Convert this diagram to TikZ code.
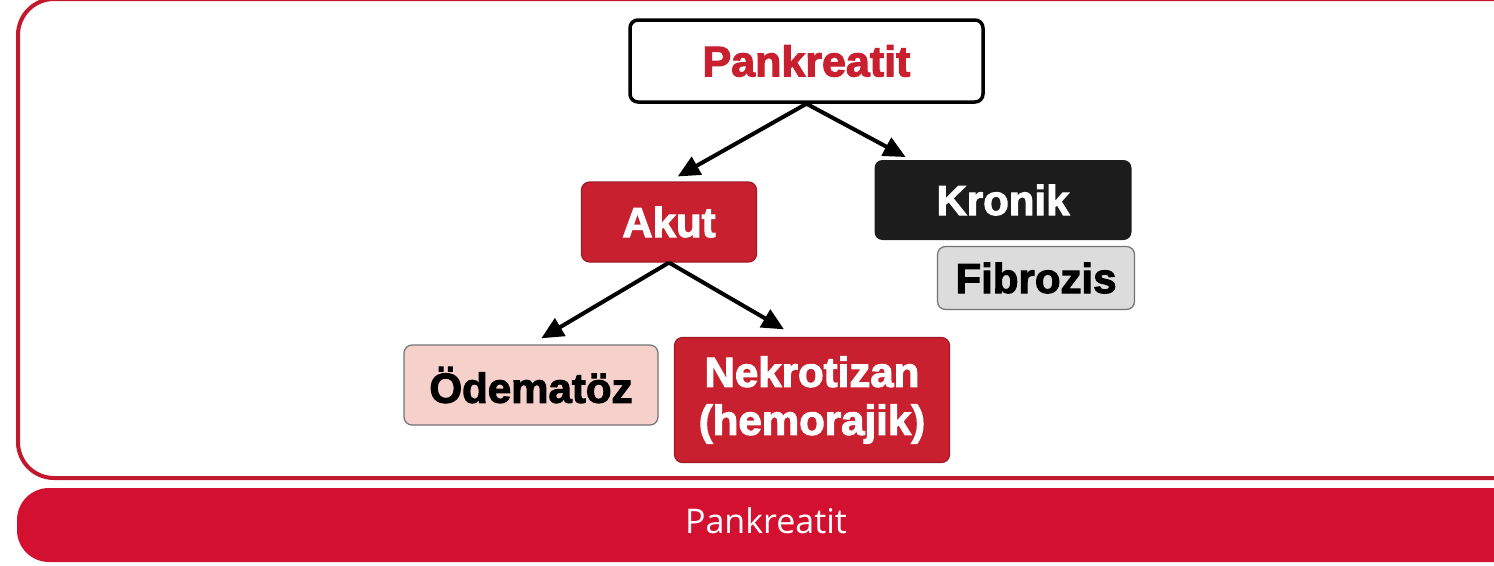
\documentclass[tikz,border=0pt]{standalone}
\usepackage{fontspec}
\setmainfont{Liberation Sans}[BoldFeatures={FakeBold=2.5}]
\newfontfamily\barfont{Open Sans}
\usetikzlibrary{arrows.meta,calc}
\definecolor{pkred}{HTML}{C8202F}
\definecolor{barred}{HTML}{D41030}
\definecolor{framered}{HTML}{C0182C}
\definecolor{pkpink}{HTML}{F6D0CB}
\definecolor{pkgray}{HTML}{DCDCDC}
\definecolor{pkblack}{HTML}{1C1C1C}

\begin{document}
\begin{tikzpicture}[x=1pt,y=-1pt,
    box/.style={rounded corners=8pt, inner sep=0pt, align=center, line width=1.2pt,
        font=\fontsize{42}{48}\selectfont\bfseries},
    arr/.style={line width=4pt, -{Triangle[length=22pt,width=20pt]}}]
    \useasboundingbox (0,0) rectangle (1494,565);
    \def\frameline{(18,-1) rectangle (1530,478)};
    \def\barshape{(17,488) rectangle (1530,562)};
    \draw[framered, line width=4pt, rounded corners=36pt] \frameline;
    \fill[barred, rounded corners=32pt] \barshape;
    \node[white, font=\barfont\fontsize{34}{40}\selectfont] (bar) at (766,521) {Pankreatit};
    \node[box, draw=black, line width=3.5pt, fill=white, text=pkred, minimum width=353pt, minimum height=82pt]
        (pank) at (806.5,61) {\fontsize{43}{48}\selectfont Pankreatit};
    \node[box, draw=pkred!80!black, fill=pkred, text=white, minimum width=175pt, minimum height=80pt]
        (akut) at (669,222) {Akut};
    \node[box, fill=pkblack, text=white, minimum width=257pt, minimum height=80pt]
        (kronik) at (1003,200) {Kronik};
    \node[box, draw=black!55, fill=pkgray, minimum width=197pt, minimum height=63pt]
        (fibro) at (1036,278) {Fibrozis};
    \node[box, draw=black!55, fill=pkpink, minimum width=254pt, minimum height=80pt]
        (odem) at (531,385) {Ödematöz};
    \node[box, draw=pkred!80!black, fill=pkred, text=white, minimum width=275pt, minimum height=125pt]
        (nekro) at (812,400) {Nekrotizan\\(hemorajik)};
    \draw[arr, shorten >=10pt] (pank.south) -- (akut.north);
    \draw[arr, shorten >=5pt] (pank.south) -- ($(kronik.north west)!0.14!(kronik.north east)$);
    \draw[arr, shorten >=12pt] (akut.south) -- (odem.north);
    \draw[arr, shorten >=15pt] (akut.south) -- ($(nekro.north)+(-15,0)$);
\end{tikzpicture}
\end{document}
